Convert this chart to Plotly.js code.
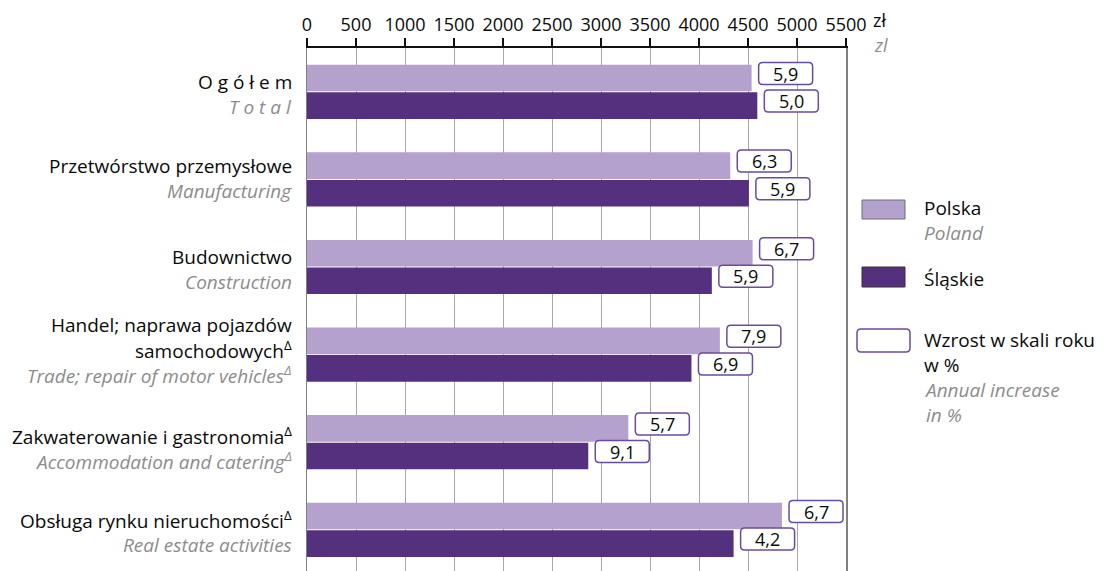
<!DOCTYPE html>
<html>
<head>
<meta charset="utf-8">
<script src="https://cdn.plot.ly/plotly-3.0.1.min.js"></script>
<style>
  html, body { margin: 0; padding: 0; background: #ffffff; }
  #chart { width: 1104px; height: 571px; }
</style>
</head>
<body>
<div id="chart"></div>
<script>
// ---- data ----
const categoriesPL = [
  ["O g ó ł e m"],
  ["Przetwórstwo przemysłowe"],
  ["Budownictwo"],
  ["Handel; naprawa pojazdów", "samochodowych<sup>Δ</sup>"],
  ["Zakwaterowanie i gastronomia<sup>Δ</sup>"],
  ["Obsługa rynku nieruchomości<sup>Δ</sup>"]
];
const categoriesEN = [
  "T o t a l",
  "Manufacturing",
  "Construction",
  "Trade; repair of motor vehicles<sup>Δ</sup>",
  "Accommodation and catering<sup>Δ</sup>",
  "Real estate activities"
];
const wagesPolska   = [4537, 4319, 4547, 4213, 3279, 4847];
const wagesSlaskie  = [4595, 4509, 4131, 3923, 2870, 4353];
const growthPolska  = [5.9, 6.3, 6.7, 7.9, 5.7, 6.7];
const growthSlaskie = [5.0, 5.9, 5.9, 6.9, 9.1, 4.2];
const xTicks = [0, 500, 1000, 1500, 2000, 2500, 3000, 3500, 4000, 4500, 5000, 5500];
const seriesNames = ["Polska", "Śląskie"];

// ---- style ----
const FONT = "Open Sans, Noto Sans, sans-serif";
const C_LIGHT = "#b4a1ce";
const C_DARK = "#55307f";
const C_BOX = "#6a4c9c";
const C_GRAY = "#8c8c8c";
const C_TEXT = "#0a0a0a";
const LBL = 19;

const W = 1104, H = 571;
const M = { l: 307, r: 258, t: 48, b: 0 };
const PW = W - M.l - M.r, PH = H - M.t - M.b;
const px2x = px => (px - M.l) / PW;
const py2y = py => (H - M.b - py) / PH;

const idx = categoriesEN.map((_, i) => i);
const bargap = 0.37;
const slot = (1 - bargap) / 2;

const traces = [
  { type: "bar", orientation: "h", name: seriesNames[0], y: idx, x: wagesPolska,
    marker: { color: C_LIGHT }, hoverinfo: "x" },
  { type: "bar", orientation: "h", name: seriesNames[1], y: idx, x: wagesSlaskie,
    marker: { color: C_DARK }, hoverinfo: "x" }
];

const annotations = [];
const shapes = [];

// category labels
const labelOffset = [2.6, -1, 2.5, -5, 6, 3];
const LINE = 25;
idx.forEach(i => {
  const lines = categoriesPL[i].map(t => ({ t, it: false })).concat([{ t: categoriesEN[i], it: true }]);
  const n = lines.length;
  lines.forEach((ln, k) => {
    const off = labelOffset[i] + (k - (n - 1) / 2) * LINE;
    annotations.push({
      xref: "paper", yref: "y", x: 0, y: i, xanchor: "right", yanchor: "middle",
      xshift: -13, yshift: -off, showarrow: false,
      text: ln.it ? "<i>" + ln.t + "</i>" : ln.t,
      font: { family: FONT, size: LBL, color: ln.it ? C_GRAY : C_TEXT }
    });
  });
});

// growth boxes
function roundRect(x0, y0, x1, y1, r) {
  return `M ${x0 + r},${y0} L ${x1 - r},${y0} Q ${x1},${y0} ${x1},${y0 + r} ` +
         `L ${x1},${y1 - r} Q ${x1},${y1} ${x1 - r},${y1} L ${x0 + r},${y1} ` +
         `Q ${x0},${y1} ${x0},${y1 - r} L ${x0},${y0 + r} Q ${x0},${y0} ${x0 + r},${y0} Z`;
}
const BOXGAP = 7, BOXW = 54, BOXH = 22, BOXUP = 4.5;
[[wagesPolska, growthPolska, -1], [wagesSlaskie, growthSlaskie, 1]].forEach(([vals, gr, side]) => {
  idx.forEach(i => {
    const yc = i + side * slot / 2;
    shapes.push({
      type: "path", xref: "x", yref: "y", xsizemode: "pixel", ysizemode: "pixel",
      xanchor: vals[i], yanchor: yc,
      path: roundRect(BOXGAP, BOXUP - BOXH / 2, BOXGAP + BOXW, BOXUP + BOXH / 2, 4),
      fillcolor: "#ffffff", line: { color: C_BOX, width: 1.5 }, layer: "above"
    });
    annotations.push({
      xref: "x", yref: "y", x: vals[i], y: yc, xanchor: "center", yanchor: "middle",
      xshift: BOXGAP + BOXW / 2, yshift: BOXUP, showarrow: false,
      text: gr[i].toFixed(1).replace(".", ","),
      font: { family: FONT, size: 18, color: C_TEXT }
    });
  });
});

// axis unit labels
annotations.push({ xref: "paper", yref: "paper", x: px2x(871), y: py2y(20), xanchor: "left", yanchor: "middle",
  showarrow: false, text: "zł", font: { family: FONT, size: 18, color: C_TEXT } });
annotations.push({ xref: "paper", yref: "paper", x: px2x(872), y: py2y(45), xanchor: "left", yanchor: "middle",
  showarrow: false, text: "<i>zl</i>", font: { family: FONT, size: 18, color: C_GRAY } });

// legend
function pRect(x0, y0, x1, y1, fill, line) {
  shapes.push({ type: "rect", xref: "paper", yref: "paper",
    x0: px2x(x0), x1: px2x(x1), y0: py2y(y1), y1: py2y(y0),
    fillcolor: fill, line: { color: line, width: 1 } });
}
pRect(862, 200, 905, 219, C_LIGHT, "#6f6f6f");
pRect(862, 267, 905, 287, C_DARK, "#333333");
(function () {
  const x0 = 857, x1 = 910, y0 = 329, y1 = 352, r = 4;
  const X = px2x, Y = py2y;
  const rx = r / PW, ry = r / PH;
  const a = X(x0), b = X(x1), top = Y(y0), bot = Y(y1);
  shapes.push({ type: "path", xref: "paper", yref: "paper",
    path: `M ${a + rx},${top} L ${b - rx},${top} Q ${b},${top} ${b},${top - ry} ` +
          `L ${b},${bot + ry} Q ${b},${bot} ${b - rx},${bot} L ${a + rx},${bot} ` +
          `Q ${a},${bot} ${a},${bot + ry} L ${a},${top - ry} Q ${a},${top} ${a + rx},${top} Z`,
    fillcolor: "#ffffff", line: { color: C_BOX, width: 1.5 } });
})();
const legendTexts = [
  ["Polska", 208, false], ["Poland", 233, true],
  ["Śląskie", 279, false],
  ["Wzrost w skali roku<br>w %", 352.5, false],
  ["Annual increase<br>in %", 402, true]
];
legendTexts.forEach(([t, py, it]) => {
  annotations.push({ xref: "paper", yref: "paper", x: px2x(922), y: py2y(py), xanchor: "left", yanchor: "middle",
    align: "left", showarrow: false, text: it ? "<i>" + t.replace("<br>", "</i><br><i>") + "</i>" : t,
    font: { family: FONT, size: LBL, color: it ? C_GRAY : C_TEXT } });
});

const layout = {
  width: W, height: H,
  margin: M,
  paper_bgcolor: "#ffffff", plot_bgcolor: "#ffffff",
  showlegend: false,
  barmode: "group", bargap: bargap, bargroupgap: 0.035,
  font: { family: FONT, size: 18, color: C_TEXT },
  xaxis: {
    side: "top", range: [0, 5500], tickvals: xTicks, ticktext: xTicks.map(String),
    ticks: "outside", ticklen: 8, tickwidth: 1.5, tickcolor: "#111111",
    showline: true, linewidth: 2, linecolor: "#111111",
    showgrid: true, gridcolor: "#a8a8a8", gridwidth: 1, zeroline: false,
    tickfont: { family: FONT, size: 18, color: C_TEXT }, fixedrange: true
  },
  yaxis: {
    range: [5.47, -0.5], showticklabels: false, ticks: "", showgrid: false, zeroline: false,
    showline: true, mirror: true, linecolor: "#808080", linewidth: 1.5, fixedrange: true
  },
  annotations, shapes
};

Plotly.newPlot("chart", traces, layout, { staticPlot: true, displayModeBar: false });
</script>
</body>
</html>
